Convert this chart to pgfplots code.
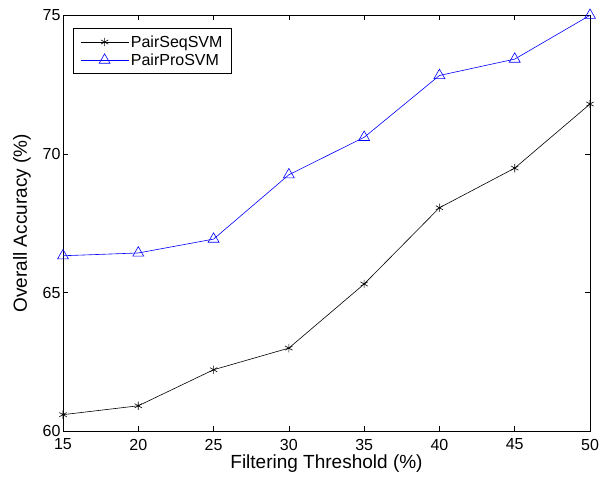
\documentclass[border=0pt]{standalone}
\usepackage{fontspec}
\setmainfont{Liberation Sans}
\usepackage{pgfplots}
\pgfplotsset{compat=1.18}
\begin{document}
\begin{tikzpicture}
\begin{axis}[
    scale only axis,
    width=527pt,
    height=416pt,
    xmin=15, xmax=50,
    ymin=60, ymax=75,
    xtick={15,20,...,50},
    ytick={60,65,70,75},
    tick align=inside,
    major tick length=5pt,
    axis line style={line width=0.8pt},
    every tick/.style={black, line width=0.6pt},
    /pgf/number format/assume math mode=true,
    tick label style={font=\fontsize{16}{19}\selectfont},
    xticklabel style={yshift=-4pt},
    yticklabel style={xshift=1pt},
    xlabel={Filtering Threshold (\%)},
    ylabel={Overall Accuracy (\%)},
    label style={font=\fontsize{19}{22}\selectfont},
    xlabel style={yshift=2pt},
    ylabel style={yshift=5pt},
    legend cell align=left,
    legend style={
      at={(0.019,0.969)}, anchor=north west,
      font=\fontsize{16}{19}\selectfont,
      draw=black, line width=0.6pt,
      inner xsep=7pt, inner ysep=5pt, row sep=1pt,
    },
    legend image code/.code={
      \draw[#1, mark repeat=2, mark phase=2] plot coordinates {(0pt,0pt) (24pt,0pt) (48pt,0pt)};
    },
  ]
  \addplot[black, line width=0.6pt, mark=asterisk, mark size=4.2pt,
           mark options={line width=0.6pt}] coordinates {
    (15,60.6) (20,60.92) (25,62.22) (30,63.0) (35,65.31) (40,68.06) (45,69.49) (50,71.8)
  };
  \addlegendentry{PairSeqSVM}
  \addplot[blue, line width=0.6pt, mark=triangle, mark size=6.3pt,
           mark options={line width=0.6pt, fill=none}] coordinates {
    (15,66.33) (20,66.43) (25,66.93) (30,69.25) (35,70.6) (40,72.83) (45,73.42) (50,75.0)
  };
  \addlegendentry{PairProSVM}
\end{axis}
\path (current axis.south west) ++(-63pt,-45.5pt) (current axis.north east) ++(21pt,15.3pt);
\end{tikzpicture}
\end{document}
